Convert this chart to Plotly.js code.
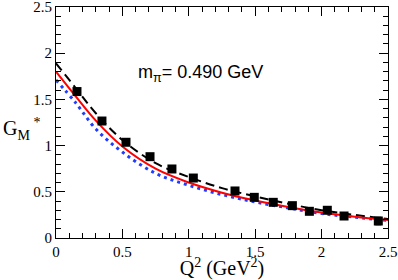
<!DOCTYPE html>
<html><head><meta charset="utf-8">
<script src="https://cdn.plot.ly/plotly-3.0.1.min.js"></script>
<style>body{margin:0;padding:0;background:#fff}#plot{width:398px;height:280px}</style>
</head><body><div id="plot"></div>
<script>
// curve grid (Q^2, GeV^2)
const curveQ2 = [0, 0.15, 0.3, 0.5, 0.75, 1.0, 1.25, 1.5, 1.75, 2.0, 2.25, 2.5];
const dashedGM = [1.89, 1.62, 1.35, 1.06, 0.81, 0.66, 0.54, 0.45, 0.37, 0.30, 0.25, 0.205];
const redGM    = [1.80, 1.53, 1.27, 0.99, 0.75, 0.60, 0.49, 0.405, 0.335, 0.275, 0.23, 0.195];
const blueGM   = [1.71, 1.46, 1.18, 0.93, 0.70, 0.57, 0.47, 0.39, 0.325, 0.265, 0.225, 0.19];
// lattice data
const dataQ2  = [0.158, 0.346, 0.527, 0.708, 0.873, 1.034, 1.348, 1.493, 1.636, 1.78, 1.908, 2.043, 2.169, 2.427];
const dataGM  = [1.585, 1.266, 1.036, 0.88, 0.747, 0.649, 0.509, 0.44, 0.386, 0.35, 0.289, 0.30, 0.238, 0.184];
const dataErr = [0.02, 0.02, 0.02, 0.02, 0.02, 0.02, 0.02, 0.02, 0.02, 0.02, 0.02, 0.02, 0.02, 0.045];
// tick labels
const tickVals = [0, 0.5, 1, 1.5, 2, 2.5];
const tickText = ['0', '0.5', '1', '1.5', '2', '2.5'];

const traces = [
  {x: curveQ2, y: blueGM, mode: 'lines', line: {color: '#1f3cff', width: 3, dash: '3px,4px', shape: 'spline'}, hoverinfo: 'skip'},
  {x: curveQ2, y: dashedGM, mode: 'lines', line: {color: '#000', width: 2, dash: '9px,5px', shape: 'spline'}, hoverinfo: 'skip'},
  {x: curveQ2, y: redGM, mode: 'lines', line: {color: '#ff0000', width: 2, shape: 'spline'}, hoverinfo: 'skip'},
  {x: dataQ2, y: dataGM, mode: 'markers', marker: {symbol: 'square', size: 9, color: '#000'},
   error_y: {type: 'data', array: dataErr, color: '#888', thickness: 1, width: 3}}
];

const tickFont = {family: 'Liberation Serif, Times New Roman, serif', size: 15, color: '#000'};
const axisCommon = {
  showline: true, linecolor: '#000', linewidth: 1, mirror: 'allticks',
  ticks: 'inside', ticklen: 9, tickcolor: '#000', tickwidth: 1,
  showgrid: false, zeroline: false, tickfont: tickFont,
  tickmode: 'array', tickvals: tickVals, ticktext: tickText,
  ticklabeloverflow: 'allow',
  minor: {ticks: 'inside', ticklen: 5, tickmode: 'linear', tick0: 0, dtick: 0.1, tickcolor: '#000', showgrid: false}
};

const layout = {
  width: 398, height: 280,
  margin: {l: 56, r: 10, t: 7, b: 42},
  paper_bgcolor: '#fff', plot_bgcolor: '#fff',
  showlegend: false,
  xaxis: Object.assign({}, axisCommon, {range: [0, 2.5],
    title: {text: 'Q<sup>2</sup> (GeV<sup>2</sup>)', font: {family: 'Liberation Serif, serif', size: 20, color: '#000'}, standoff: 2}}),
  yaxis: Object.assign({}, axisCommon, {range: [0, 2.5]}),
  annotations: [
    {xref: 'paper', yref: 'paper', x: -0.165, y: 0.47, xanchor: 'left', yanchor: 'middle', showarrow: false,
     text: 'G<sub>M</sub><sup> *</sup>', font: {family: 'Liberation Serif, serif', size: 20, color: '#000'}},
    {xref: 'x', yref: 'y', x: 0.6, y: 1.78, xanchor: 'left', yanchor: 'middle', showarrow: false,
     text: 'm<sub>π</sub>= 0.490 GeV', font: {family: 'Liberation Sans, Arial, sans-serif', size: 18, color: '#000'}}
  ]
};

Plotly.newPlot('plot', traces, layout, {displayModeBar: false, staticPlot: true});
</script></body></html>
